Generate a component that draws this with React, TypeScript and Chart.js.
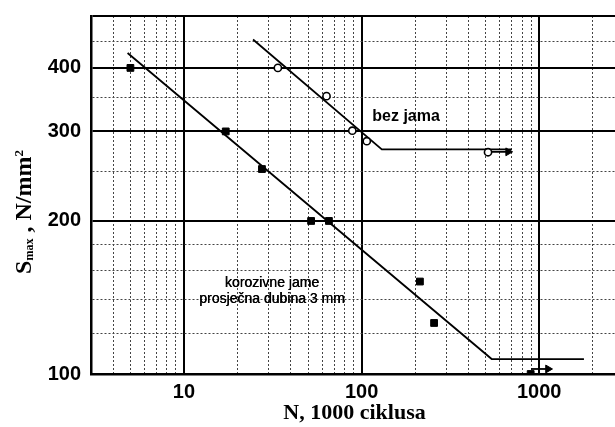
import React, { useEffect, useRef } from "react";
import { Chart, registerables } from "chart.js";

Chart.register(...registerables);

// ---- axes -------------------------------------------------------------
const X_MIN = 3;
const X_MAX = 3000;
const Y_MIN = 100;
const Y_MAX = 506;
const xGrid = [3, 4, 5, 6, 7, 8, 9, 10, 20, 30, 40, 50, 60, 70, 80, 90, 100, 200, 300, 400, 500, 600, 700, 800, 900, 1000, 2000, 3000];
const xMajor = [3, 10, 100, 1000];
const xLabelled = [10, 100, 1000];
const yGrid = [100, 120, 140, 160, 180, 200, 250, 300, 350, 400, 450, 506];
const yMajor = [100, 200, 300, 400, 506];
const yLabelled = [100, 200, 300, 400];

const X_TITLE = "N, 1000 ciklusa";
const Y_TITLE_MAIN = "S";
const Y_TITLE_SUB = "max";
const Y_TITLE_REST = " , N/mm";
const Y_TITLE_SUP = "2";

// ---- corrosion pits (filled squares) ---------------------------------
const pitN = [5, 17.2, 27.5, 52, 65.5, 213, 256, 895];
const pitS = [400, 300, 253, 200, 200, 152, 126, 100];
const pitCurveN = [4.82, 540, 1785];
const pitCurveS = [428, 107, 107];
const pitRunoutN = [900, 1120];
const pitRunoutS = [102.3, 102.3];

// ---- no pits (open circles) ------------------------------------------
const smoothN = [33.8, 63.5, 88.7, 107, 515];
const smoothS = [400, 352, 301, 287, 273];
const smoothCurveN = [24.5, 130, 700];
const smoothCurveS = [455, 276.5, 276.5];
const smoothRunoutN = [540, 668];
const smoothRunoutS = [273.5, 273.5];

// ---- annotations -----------------------------------------------------
const noteTexts = ["bez jama", "korozivne jame", "prosječna dubina 3 mm"];
const noteN = [178, 31.3, 31.3];
const noteS = [321, 151, 140.4];
const noteBold = [true, false, false];

const zip = (xs: number[], ys: number[]) => xs.map((x, i) => ({ x, y: ys[i] }));

const textPlugin = {
  id: "textPlugin",
  afterDraw(chart: any) {
    const { ctx } = chart;
    const xs = chart.scales.x;
    const ys = chart.scales.y;
    ctx.save();
    ctx.fillStyle = "#000";
    ctx.textAlign = "center";
    ctx.textBaseline = "middle";
    noteTexts.forEach((t, i) => {
      ctx.font = noteBold[i] ? 'bold 16px "Liberation Sans"' : '14px "Liberation Sans"';
      const px = xs.getPixelForValue(noteN[i]);
      const py = ys.getPixelForValue(noteS[i]);
      ctx.fillText(t, px, py);
      if (!noteBold[i]) {
        ctx.fillText(t, px + 0.4, py);
      }
    });

    // x title
    ctx.font = 'bold 22px "Liberation Serif"';
    ctx.textBaseline = "alphabetic";
    ctx.fillText(X_TITLE, 354.5, 419);

    // y title (rotated)
    ctx.translate(23, 212);
    ctx.rotate(-Math.PI / 2);
    const parts = [
      { t: Y_TITLE_MAIN, f: 'bold 24px "Liberation Serif"', dy: 8 },
      { t: Y_TITLE_SUB, f: 'bold 12px "Liberation Serif"', dy: 10 },
      { t: Y_TITLE_REST, f: 'bold 24px "Liberation Serif"', dy: 8 },
      { t: Y_TITLE_SUP, f: 'bold 13px "Liberation Serif"', dy: 0 },
    ];
    let total = 0;
    const widths = parts.map((p) => {
      ctx.font = p.f;
      const w = ctx.measureText(p.t).width;
      total += w;
      return w;
    });
    let cx = -total / 2;
    ctx.textAlign = "left";
    parts.forEach((p, i) => {
      ctx.font = p.f;
      ctx.fillText(p.t, cx, p.dy);
      cx += widths[i];
    });
    ctx.restore();
  },
};

export default function App() {
  const ref = useRef<HTMLCanvasElement | null>(null);

  useEffect(() => {
    if (!ref.current) return;
    const lineDs = (data: any[]) => ({
      type: "line" as const,
      data,
      showLine: true,
      borderColor: "#000",
      borderWidth: 1.8,
      pointRadius: 0,
      fill: false,
      tension: 0,
    });
    const arrowDs = (data: any[]) => ({
      type: "line" as const,
      data,
      showLine: true,
      borderColor: "#000",
      backgroundColor: "#000",
      borderWidth: 1.8,
      pointStyle: "triangle",
      pointRadius: [0, 4.5],
      pointRotation: 90,
      pointBorderWidth: 1,
      fill: false,
    });

    const chart = new Chart(ref.current, {
      type: "scatter",
      data: {
        datasets: [
          {
            label: "korozivne jame",
            data: zip(pitN, pitS),
            pointStyle: "rect",
            pointRadius: 4.8,
            backgroundColor: "#000",
            borderColor: "#000",
            borderWidth: 1,
          },
          {
            label: "bez jama",
            data: zip(smoothN, smoothS),
            pointStyle: "circle",
            pointRadius: 3.6,
            backgroundColor: "#fff",
            borderColor: "#000",
            borderWidth: 1.6,
          },
          lineDs(zip(pitCurveN, pitCurveS)),
          lineDs(zip(smoothCurveN, smoothCurveS)),
          arrowDs(zip(pitRunoutN, pitRunoutS)),
          arrowDs(zip(smoothRunoutN, smoothRunoutS)),
        ] as any,
      },
      options: {
        animation: false,
        responsive: false,
        devicePixelRatio: 1,
        layout: { padding: { left: 0, top: 16, right: 16, bottom: 0 } },
        plugins: { legend: { display: false }, tooltip: { enabled: false } },
        scales: {
          x: {
            type: "logarithmic",
            min: X_MIN,
            max: X_MAX,
            afterBuildTicks: (s: any) => {
              s.ticks = xGrid.map((v) => ({ value: v }));
            },
            afterFit: (s: any) => {
              s.height = 53;
              s.paddingLeft = 0;
              s.paddingRight = 0;
            },
            ticks: {
              autoSkip: false,
              maxRotation: 0,
              minRotation: 0,
              padding: 6,
              color: "#000",
              font: { family: "Liberation Sans", weight: "bold", size: 20 },
              callback: (v: any) => (xLabelled.includes(Number(v)) ? String(v) : ""),
            },
            grid: {
              drawTicks: false,
              color: (c: any) => (c.tick && xMajor.includes(c.tick.value) ? "#000" : "#444"),
              lineWidth: (c: any) => (c.tick && xMajor.includes(c.tick.value) ? 2 : 1),
            },
            border: {
              display: true,
              color: "#000",
              width: 2.5,
              dash: (c: any) => (c.tick && !xMajor.includes(c.tick.value) ? [2, 2] : []),
            },
          },
          y: {
            type: "logarithmic",
            min: Y_MIN,
            max: Y_MAX,
            afterBuildTicks: (s: any) => {
              s.ticks = yGrid.map((v) => ({ value: v }));
            },
            afterFit: (s: any) => {
              s.width = 91;
              s.paddingTop = 0;
              s.paddingBottom = 0;
            },
            ticks: {
              autoSkip: false,
              padding: 10,
              color: "#000",
              font: { family: "Liberation Sans", weight: "bold", size: 20 },
              callback: (v: any) => (yLabelled.includes(Number(v)) ? String(v) : ""),
            },
            grid: {
              drawTicks: false,
              color: (c: any) => (c.tick && yMajor.includes(c.tick.value) ? "#000" : "#444"),
              lineWidth: (c: any) => (c.tick && yMajor.includes(c.tick.value) ? 2 : 1),
            },
            border: {
              display: true,
              color: "#000",
              width: 2.5,
              dash: (c: any) => (c.tick && !yMajor.includes(c.tick.value) ? [2, 2] : []),
            },
          },
        },
      } as any,
      plugins: [textPlugin],
    });
    return () => chart.destroy();
  }, []);

  return (
    <div
      style={{
        position: "fixed",
        left: 0,
        top: 0,
        width: 615,
        height: 427,
        overflow: "hidden",
        background: "#fff",
      }}
    >
      <canvas ref={ref} width={640} height={427} style={{ display: "block" }} />
    </div>
  );
}
